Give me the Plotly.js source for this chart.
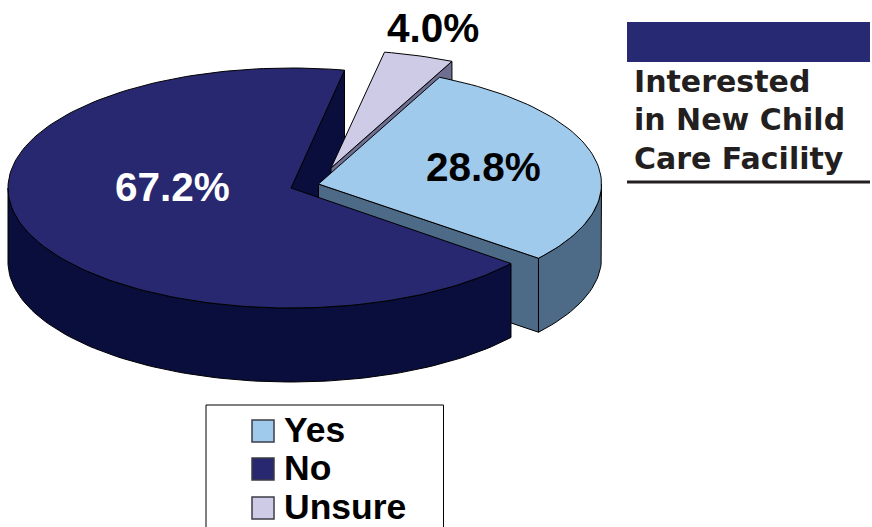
<!DOCTYPE html>
<html>
<head>
<meta charset="utf-8">
<script src="https://cdn.plot.ly/plotly-3.0.1.min.js"></script>
<style>html,body{margin:0;padding:0;background:#fff;overflow:hidden}</style>
</head>
<body>
<div id="chart" style="width:872px;height:527px"></div>
<script>
const categories = ['Yes', 'No', 'Unsure'];
const shares = [28.8, 67.2, 4.0];
const titleLines = ['Interested', 'in New Child', 'Care Facility'];

const topColors = {Yes: '#9fcaec', No: '#27286f', Unsure: '#cdcbe6'};
const wallColors = {Yes: '#4d6a87', No: '#0a0e3c', Unsure: '#6e6e90'};
const hubs = {Yes: [318.5, 184], No: [291, 188], Unsure: [331, 168]};
const radii = {Yes: [283, 118], No: [283, 120], Unsure: [283, 118]};
const labelSpots = {Yes: [483, 166.5], No: [172, 186.5], Unsure: [432.5, 27.5]};
const labelInk = {Yes: '#000000', No: '#ffffff', Unsure: '#000000'};
const startAngle = 64.7, depth = 74, rad = Math.PI / 180;

// slice spans (clockwise, in ellipse-parameter degrees) from the shares
const total = shares.reduce((a, b) => a + b, 0);
const spans = {};
let cursor = startAngle;
categories.forEach((c, i) => {
  const sweep = shares[i] / total * 360;
  spans[c] = [cursor, cursor - sweep];
  cursor -= sweep;
});

function rimPoint(c, deg, drop) {
  return [hubs[c][0] + radii[c][0] * Math.cos(deg * rad),
          hubs[c][1] - radii[c][1] * Math.sin(deg * rad) + (drop || 0)];
}
function arc(c, from, to, drop) {
  const n = Math.max(2, Math.ceil(Math.abs(to - from) / 1.5));
  const pts = [];
  for (let k = 0; k <= n; k++) pts.push(rimPoint(c, from + (to - from) * k / n, drop));
  return pts;
}
function poly(name, pts, color) {
  const closed = pts.concat([pts[0]]);
  return {type: 'scatter', mode: 'lines', name: name, showlegend: false, hoverinfo: 'skip',
          x: closed.map(p => p[0]), y: closed.map(p => p[1]), fill: 'toself', fillcolor: color,
          line: {color: '#000000', width: 1}};
}
function topFace(c) {
  return poly(c, [hubs[c]].concat(arc(c, spans[c][0], spans[c][1])), topColors[c]);
}
function cutWall(c, deg) {
  const r = rimPoint(c, deg), rd = rimPoint(c, deg, depth);
  return poly(c + ' cut', [hubs[c], r, rd, [hubs[c][0], hubs[c][1] + depth]], wallColors[c]);
}
function outerWall(c, from, to) {
  return poly(c + ' rim', arc(c, from, to).concat(arc(c, to, from, depth)), wallColors[c]);
}

const noEnd = spans.No[1], yesEnd = spans.Yes[1];
const traces = [
  cutWall('No', noEnd + 360),
  cutWall('Unsure', spans.Unsure[1]),
  topFace('Unsure'),
  cutWall('Yes', yesEnd),
  outerWall('Yes', yesEnd, 0),
  topFace('Yes'),
  outerWall('No', -180, spans.No[0]),
  topFace('No')
];

const ink = '#231f20';
const shapes = [
  {type: 'rect', x0: 627, x1: 870, y0: 22, y1: 62, fillcolor: '#272a73', line: {width: 0}},
  {type: 'line', x0: 627, x1: 870, y0: 182, y1: 182, line: {color: ink, width: 3}},
  {type: 'path', path: 'M206,530 L206,405 L443.5,405 L443.5,530', line: {color: '#000000', width: 1}}
];
const swatchTops = [420, 458, 497];
const annotations = [];
categories.forEach((c, i) => {
  shapes.push({type: 'rect', x0: 252, x1: 274, y0: swatchTops[i], y1: swatchTops[i] + 22,
               fillcolor: topColors[c], line: {color: '#3c3c46', width: 1.5}});
  annotations.push({x: 284, y: swatchTops[i] + 10, text: '<b>' + c + '</b>', xanchor: 'left', yanchor: 'middle',
                    font: {family: 'Liberation Sans', size: 35.5, color: '#000000'}});
  annotations.push({x: labelSpots[c][0], y: labelSpots[c][1], text: '<b>' + shares[i].toFixed(1) + '%</b>',
                    xanchor: 'center', yanchor: 'middle',
                    font: {family: 'Liberation Sans', size: 40.5, color: labelInk[c]}});
});
const lineCenters = [81, 119.5, 158];
titleLines.forEach((t, i) => annotations.push({x: 634, y: lineCenters[i], text: '<b>' + t + '</b>', xanchor: 'left', yanchor: 'middle',
  font: {family: 'DejaVu Sans', size: 30, color: ink}}));
annotations.forEach(a => { a.xref = 'x'; a.yref = 'y'; a.showarrow = false; a.xshift = 0; a.borderpad = 0; a.borderwidth = 0; });

Plotly.newPlot('chart', traces, {
  width: 872, height: 527, autosize: false,
  margin: {l: 0, r: 0, t: 0, b: 0, pad: 0},
  paper_bgcolor: '#ffffff', plot_bgcolor: '#ffffff',
  xaxis: {range: [0, 872], visible: false, fixedrange: true},
  yaxis: {range: [527, 0], visible: false, fixedrange: true},
  showlegend: false, shapes: shapes, annotations: annotations
}, {displayModeBar: false, staticPlot: true});
</script>
</body>
</html>
